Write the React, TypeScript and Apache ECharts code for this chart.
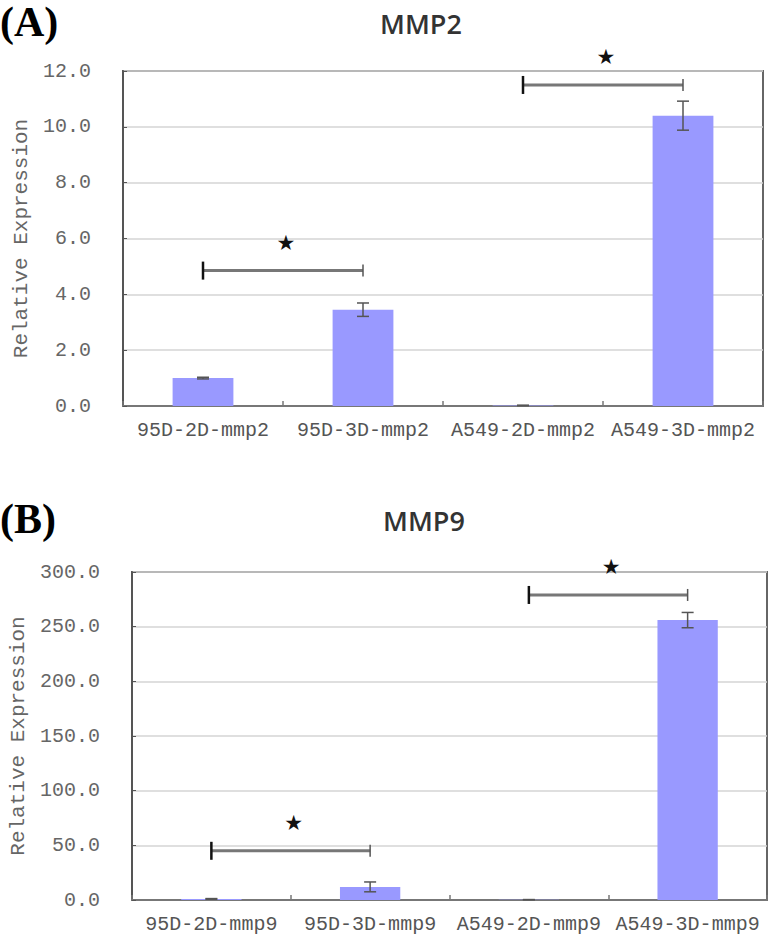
import React, { useEffect, useRef } from "react";
import * as echarts from "echarts";

const categoriesA = ["95D-2D-mmp2", "95D-3D-mmp2", "A549-2D-mmp2", "A549-3D-mmp2"];
const valuesA = [1.0, 3.45, 0.02, 10.4];
const errorsA = [0.03, 0.24, 0.01, 0.52];
const bracketsA = [
  [0, 1, 4.85],
  [2, 3, 11.5],
];
const yMaxA = 12;
const yStepA = 2;

const categoriesB = ["95D-2D-mmp9", "95D-3D-mmp9", "A549-2D-mmp9", "A549-3D-mmp9"];
const valuesB = [1.0, 12.0, 0.3, 256];
const errorsB = [0.3, 4.5, 0.1, 7];
const bracketsB = [
  [0, 1, 45],
  [2, 3, 279],
];
const yMaxB = 300;
const yStepB = 50;

const titles = ["MMP2", "MMP9"];
const panelLabels = ["(A)", "(B)"];
const yName = "Relative Expression";

const MONO = "'Liberation Mono', 'DejaVu Sans Mono', monospace";
const BAR_COLOR = "#9999FF";

function errorRender(params: any, api: any) {
  const x = api.value(0);
  const lo = api.value(1);
  const hi = api.value(2);
  const pHi = api.coord([x, hi]);
  const pLo = api.coord([x, lo]);
  const w = 6;
  const st = { stroke: "#555", lineWidth: 1.5 };
  return {
    type: "group",
    children: [
      { type: "line", shape: { x1: pHi[0], y1: pHi[1], x2: pLo[0], y2: pLo[1] }, style: st },
      { type: "line", shape: { x1: pHi[0] - w, y1: pHi[1], x2: pHi[0] + w, y2: pHi[1] }, style: st },
      { type: "line", shape: { x1: pLo[0] - w, y1: pLo[1], x2: pLo[0] + w, y2: pLo[1] }, style: st },
    ],
  };
}

function bracketRender(params: any, api: any) {
  const y = api.value(2);
  const p1 = api.coord([api.value(0), y]);
  const p2 = api.coord([api.value(1), y]);
  const mid = (p1[0] + p2[0]) / 2;
  return {
    type: "group",
    children: [
      { type: "line", shape: { x1: p1[0], y1: p1[1], x2: p2[0], y2: p2[1] }, style: { stroke: "#777", lineWidth: 3 } },
      { type: "line", shape: { x1: p1[0], y1: p1[1] - 9, x2: p1[0], y2: p1[1] + 9 }, style: { stroke: "#111", lineWidth: 2.5 } },
      { type: "line", shape: { x1: p2[0], y1: p2[1] - 6, x2: p2[0], y2: p2[1] + 6 }, style: { stroke: "#555", lineWidth: 1.5 } },
      {
        type: "text",
        x: mid + 3,
        y: p1[1] - 28,
        style: { text: "★", fill: "#111", font: "21px 'DejaVu Sans'", align: "center", verticalAlign: "middle" },
      },
    ],
  };
}

function buildAxes(idx: number, cats: string[], max: number, step: number, nameGap: number) {
  const xAxis = {
    type: "category",
    gridIndex: idx,
    data: cats,
    boundaryGap: true,
    axisLine: { show: true, lineStyle: { color: "#777", width: 2 } },
    axisTick: { show: true, inside: true, length: 5, lineStyle: { color: "#777", width: 1.5 } },
    axisLabel: { color: "#555", fontFamily: MONO, fontSize: 20, margin: 14, interval: 0 },
    splitLine: { show: false },
  };
  const yAxis = {
    type: "value",
    gridIndex: idx,
    min: 0,
    max,
    interval: step,
    name: yName,
    nameLocation: "middle",
    nameGap,
    nameRotate: 90,
    nameTextStyle: { color: "#666", fontFamily: MONO, fontSize: 21 },
    axisLine: { show: true, lineStyle: { color: "#555", width: 2 } },
    axisTick: { show: true, inside: true, length: 4, lineStyle: { color: "#555" } },
    axisLabel: { color: "#666", fontFamily: MONO, fontSize: 20, margin: 32, formatter: (v: number) => v.toFixed(1) },
    splitLine: { show: true, lineStyle: { color: "#d4d4d4", width: 1.5 } },
  };
  return { xAxis, yAxis };
}

function seriesFor(idx: number, values: number[], errors: number[], brackets: number[][]) {
  return [
    {
      type: "bar",
      xAxisIndex: idx,
      yAxisIndex: idx,
      data: values,
      barWidth: "38%",
      itemStyle: { color: BAR_COLOR },
      z: 2,
    },
    {
      type: "custom",
      xAxisIndex: idx,
      yAxisIndex: idx,
      renderItem: errorRender,
      data: values.map((v, i) => [i, v - errors[i], v + errors[i]]),
      encode: { x: 0, y: [1, 2] },
      z: 3,
    },
    {
      type: "custom",
      xAxisIndex: idx,
      yAxisIndex: idx,
      renderItem: bracketRender,
      data: brackets,
      encode: { x: [0, 1], y: 2 },
      clip: false,
      z: 4,
    },
  ];
}

export default function App() {
  const ref = useRef<HTMLDivElement>(null);
  useEffect(() => {
    if (!ref.current) return;
    const chart = echarts.init(ref.current, null, { renderer: "svg" });
    const a = buildAxes(0, categoriesA, yMaxA, yStepA, 88);
    const b = buildAxes(1, categoriesB, yMaxB, yStepB, 103);
    const option: any = {
      animation: false,
      backgroundColor: "#fff",
      grid: [
        { left: 123, right: 11, top: 71, height: 335, show: true, borderColor: "#666", borderWidth: 2, containLabel: false },
        { left: 128, right: 7, top: 572, height: 328, show: true, borderColor: "#666", borderWidth: 2, containLabel: false },
      ],
      xAxis: [a.xAxis, b.xAxis],
      yAxis: [a.yAxis, b.yAxis],
      series: [...seriesFor(0, valuesA, errorsA, bracketsA), ...seriesFor(1, valuesB, errorsB, bracketsB)],
      graphic: [
        {
          type: "text",
          x: 421,
          y: 23,
          style: { text: titles[0], fill: "#333", font: "600 27px 'Open Sans'", align: "center", verticalAlign: "middle" },
        },
        {
          type: "text",
          x: 424,
          y: 520,
          style: { text: titles[1], fill: "#333", font: "600 27px 'Open Sans'", align: "center", verticalAlign: "middle" },
        },
        {
          type: "text",
          x: 0,
          y: 22,
          style: { text: panelLabels[0], fill: "#000", font: "bold 42px 'Liberation Serif'", align: "left", verticalAlign: "middle" },
        },
        {
          type: "text",
          x: 0,
          y: 519,
          style: { text: panelLabels[1], fill: "#000", font: "bold 42px 'Liberation Serif'", align: "left", verticalAlign: "middle" },
        },
      ],
    };
    chart.setOption(option);
    return () => chart.dispose();
  }, []);
  return (
    <div
      ref={ref}
      style={{ position: "absolute", left: 0, top: 0, width: 774, height: 943, background: "#fff" }}
    />
  );
}
